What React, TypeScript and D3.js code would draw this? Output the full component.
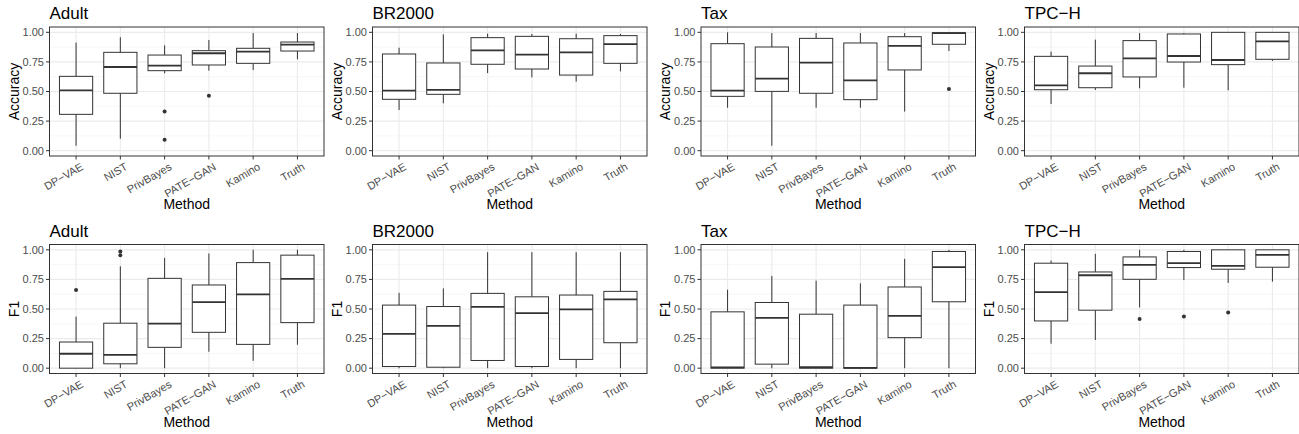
import React from "react";
import * as d3 from "d3";

const methods = ["DP\u2212VAE", "NIST", "PrivBayes", "PATE\u2212GAN", "Kamino", "Truth"];
const datasets = ["Adult", "BR2000", "Tax", "TPC\u2212H"];
const metrics = ["Accuracy", "F1"];
const yTicks = [0, 0.25, 0.5, 0.75, 1];
const yTickLabels = ["0.00", "0.25", "0.50", "0.75", "1.00"];
const yMinor = [0.125, 0.375, 0.625, 0.875];

// each row: [whiskerLow, q1, median, q3, whiskerHigh] per method
const adultAccuracy = [
  [0.042, 0.307, 0.51, 0.628, 0.913],
  [0.101, 0.485, 0.707, 0.831, 0.958],
  [0.654, 0.676, 0.718, 0.808, 0.89],
  [0.676, 0.724, 0.823, 0.845, 0.935],
  [0.682, 0.738, 0.837, 0.865, 0.994],
  [0.772, 0.842, 0.896, 0.918, 0.994],
];
const adultAccuracyOutliers = [[], [], [0.33, 0.093], [0.465], [], []];

const br2000Accuracy = [
  [0.344, 0.434, 0.507, 0.817, 0.87],
  [0.4, 0.476, 0.513, 0.741, 0.983],
  [0.656, 0.73, 0.848, 0.955, 0.989],
  [0.62, 0.69, 0.811, 0.966, 0.986],
  [0.583, 0.639, 0.831, 0.946, 0.989],
  [0.67, 0.738, 0.901, 0.972, 0.986],
];
const br2000AccuracyOutliers = [[], [], [], [], [], []];

const taxAccuracy = [
  [0.363, 0.459, 0.507, 0.904, 1.0],
  [0.042, 0.501, 0.608, 0.876, 0.994],
  [0.363, 0.485, 0.744, 0.949, 0.994],
  [0.363, 0.431, 0.594, 0.91, 0.994],
  [0.33, 0.682, 0.885, 0.963, 0.994],
  [0.842, 0.899, 0.994, 0.996, 1.0],
];
const taxAccuracyOutliers = [[], [], [], [], [], [0.521]];

const tpchAccuracy = [
  [0.394, 0.515, 0.552, 0.797, 0.837],
  [0.513, 0.532, 0.654, 0.715, 0.938],
  [0.527, 0.623, 0.78, 0.93, 0.994],
  [0.532, 0.749, 0.8, 0.986, 0.994],
  [0.51, 0.727, 0.766, 1.0, 1.0],
  [0.758, 0.772, 0.924, 1.0, 1.0],
];
const tpchAccuracyOutliers = [[], [], [], [], [], []];

const adultF1 = [
  [0.0, 0.0, 0.122, 0.221, 0.436],
  [0.0, 0.037, 0.113, 0.38, 0.861],
  [0.0, 0.176, 0.377, 0.759, 0.932],
  [0.139, 0.303, 0.558, 0.703, 0.969],
  [0.062, 0.201, 0.623, 0.892, 1.0],
  [0.198, 0.385, 0.754, 0.955, 1.0],
];
const adultF1Outliers = [[0.66], [0.986, 0.955], [], [], [], []];

const br2000F1 = [
  [0.0, 0.014, 0.289, 0.533, 0.637],
  [0.0, 0.008, 0.357, 0.521, 0.674],
  [0.0, 0.065, 0.518, 0.632, 0.98],
  [0.0, 0.014, 0.465, 0.603, 0.98],
  [0.0, 0.074, 0.496, 0.618, 0.98],
  [0.0, 0.215, 0.581, 0.649, 0.98],
];
const br2000F1Outliers = [[], [], [], [], [], []];

const taxF1 = [
  [0.0, 0.0, 0.006, 0.476, 0.663],
  [0.0, 0.034, 0.425, 0.555, 0.779],
  [0.0, 0.0, 0.008, 0.456, 0.739],
  [0.0, 0.0, 0.003, 0.533, 0.717],
  [0.0, 0.258, 0.442, 0.686, 0.924],
  [0.0, 0.561, 0.853, 0.986, 1.0],
];
const taxF1Outliers = [[], [], [], [], [], []];

const tpchF1 = [
  [0.207, 0.399, 0.643, 0.887, 0.909],
  [0.238, 0.49, 0.785, 0.813, 0.966],
  [0.513, 0.751, 0.873, 0.94, 1.0],
  [0.745, 0.85, 0.887, 0.986, 1.0],
  [0.72, 0.836, 0.864, 1.0, 1.0],
  [0.731, 0.853, 0.958, 1.0, 1.0],
];
const tpchF1Outliers = [[], [], [0.416], [0.436], [0.47], []];

const panelStats = [
  [adultAccuracy, br2000Accuracy, taxAccuracy, tpchAccuracy],
  [adultF1, br2000F1, taxF1, tpchF1],
];
const panelOutliers = [
  [adultAccuracyOutliers, br2000AccuracyOutliers, taxAccuracyOutliers, tpchAccuracyOutliers],
  [adultF1Outliers, br2000F1Outliers, taxF1Outliers, tpchF1Outliers],
];

const W = 1299;
const H = 434;
const panelLefts = [49.5, 372.5, 701, 1024.5];
const panelWidth = 274.5;
const rowTops = [27, 244.5];
const panelHeight = 129;
const FONT = "'Liberation Sans', Arial, Helvetica, sans-serif";
const DARK = "#333333";

function Panel({ row, col }: { row: number; col: number }) {
  const left = panelLefts[col];
  const top = rowTops[row];
  const right = left + panelWidth;
  const bottom = top + panelHeight;
  const x = d3.scalePoint<string>().domain(methods).range([left, right]).padding(0.6);
  const y = d3.scaleLinear().domain([-0.045, 1.045]).range([bottom, top]);
  const bw = x.step() * 0.75;
  const stats = panelStats[row][col];
  const outs = panelOutliers[row][col];
  return (
    <g>
      {/* grid */}
      {yMinor.map((v) => (
        <line key={"mn" + v} x1={left} x2={right} y1={y(v)} y2={y(v)} stroke="#F2F2F2" strokeWidth={0.6} />
      ))}
      {yTicks.map((v) => (
        <line key={"mj" + v} x1={left} x2={right} y1={y(v)} y2={y(v)} stroke="#EBEBEB" strokeWidth={1.1} />
      ))}
      {methods.map((m) => (
        <line key={"vx" + m} x1={x(m)} x2={x(m)} y1={top} y2={bottom} stroke="#EBEBEB" strokeWidth={1.1} />
      ))}
      {/* boxes */}
      {methods.map((m, i) => {
        const [lo, q1, med, q3, hi] = stats[i];
        const cx = x(m) as number;
        return (
          <g key={"b" + m}>
            <line x1={cx} x2={cx} y1={y(q3)} y2={y(hi)} stroke={DARK} strokeWidth={1} />
            <line x1={cx} x2={cx} y1={y(q1)} y2={y(lo)} stroke={DARK} strokeWidth={1} />
            <rect x={cx - bw / 2} y={y(q3)} width={bw} height={Math.max(0, y(q1) - y(q3))} fill="white" stroke={DARK} strokeWidth={1} />
            <line x1={cx - bw / 2} x2={cx + bw / 2} y1={y(med)} y2={y(med)} stroke={DARK} strokeWidth={1.8} />
            {outs[i].map((o, k) => (
              <circle key={k} cx={cx} cy={y(o)} r={2} fill={DARK} />
            ))}
          </g>
        );
      })}
      {/* border */}
      <rect x={left} y={top} width={panelWidth} height={panelHeight} fill="none" stroke={DARK} strokeWidth={1} />
      {/* y axis */}
      {yTicks.map((v, i) => (
        <g key={"yt" + v}>
          <line x1={left - 3.5} x2={left} y1={y(v)} y2={y(v)} stroke={DARK} strokeWidth={1} />
          <text x={left - 5.5} y={y(v)} dy="0.35em" textAnchor="end" fontSize={11} fill="#4D4D4D" fontFamily={FONT}>
            {yTickLabels[i]}
          </text>
        </g>
      ))}
      {/* x axis */}
      {methods.map((m) => {
        const cx = x(m) as number;
        return (
          <g key={"xt" + m}>
            <line x1={cx} x2={cx} y1={bottom} y2={bottom + 3.5} stroke={DARK} strokeWidth={1} />
            <text
              transform={`translate(${cx + 8},${bottom + 13}) rotate(-30)`}
              textAnchor="end"
              fontSize={11}
              fill="#4D4D4D"
              fontFamily={FONT}
            >
              {m}
            </text>
          </g>
        );
      })}
      {/* titles */}
      <text x={left} y={top - 8} fontSize={17} fill="black" fontFamily={FONT}>
        {datasets[col]}
      </text>
      <text x={(left + right) / 2} y={top + 182} textAnchor="middle" fontSize={14} fill="black" fontFamily={FONT}>
        Method
      </text>
      <text
        transform={`translate(${left - 31},${(top + bottom) / 2}) rotate(-90)`}
        textAnchor="middle"
        fontSize={14}
        fill="black"
        fontFamily={FONT}
      >
        {metrics[row]}
      </text>
    </g>
  );
}

export default function App() {
  return (
    <svg
      width={W}
      height={H}
      viewBox={`0 0 ${W} ${H}`}
      style={{ position: "absolute", left: 0, top: 0, background: "white" }}
    >
      <rect x={0} y={0} width={W} height={H} fill="white" />
      {[0, 1].map((r) => [0, 1, 2, 3].map((c) => <Panel key={r + "-" + c} row={r} col={c} />))}
    </svg>
  );
}
